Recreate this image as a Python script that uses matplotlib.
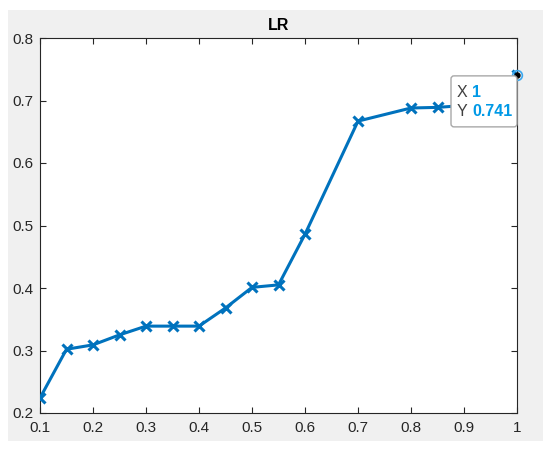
import matplotlib
matplotlib.use("Agg")
import matplotlib.pyplot as plt
from matplotlib.patches import Rectangle, FancyBboxPatch

# LR results
x_vals = [0.1, 0.15, 0.2, 0.25, 0.3, 0.35, 0.4, 0.45, 0.5, 0.55, 0.6, 0.7, 0.8, 0.85, 0.9, 1.0]
y_vals = [0.224, 0.302, 0.309, 0.325, 0.339, 0.339, 0.339, 0.368, 0.401, 0.405,
          0.486, 0.667, 0.688, 0.689, 0.692, 0.741]
x_ticks = [0.1, 0.2, 0.3, 0.4, 0.5, 0.6, 0.7, 0.8, 0.9, 1]
x_labels = ['0.1', '0.2', '0.3', '0.4', '0.5', '0.6', '0.7', '0.8', '0.9', '1']
y_ticks = [0.2, 0.3, 0.4, 0.5, 0.6, 0.7, 0.8]
y_labels = ['0.2', '0.3', '0.4', '0.5', '0.6', '0.7', '0.8']
tip_x, tip_y = 1, 0.741

plt.rcParams['font.family'] = ['Liberation Sans', 'DejaVu Sans']

W, H = 550, 450
fig = plt.figure(figsize=(5.5, 4.5), dpi=100)
fig.patch.set_facecolor('white')
# grey MATLAB figure panel
fig.patches.append(Rectangle((8 / W, (H - 441) / H), 535 / W, 431 / H,
                             transform=fig.transFigure, facecolor='#f0f0f0',
                             edgecolor='none', zorder=-5))

ax = fig.add_axes([40 / W, (H - 413) / H, 477 / W, 375 / H])
ax.set_facecolor('white')
line_col = '#0072bd'
ax.plot(x_vals, y_vals, color=line_col, linewidth=2.2, marker='x',
        markersize=7, markeredgewidth=2.2, zorder=3)

ax.set_xlim(0.1, 1)
ax.set_ylim(0.2, 0.8)
ax.set_xticks(x_ticks)
ax.set_xticklabels(x_labels)
ax.set_yticks(y_ticks)
ax.set_yticklabels(y_labels)
ax.tick_params(direction='in', length=4, width=0.8, colors='#262626',
               labelsize=11, top=True, right=True)
ax.tick_params(axis='x', pad=6)
ax.tick_params(axis='y', pad=5)
for s in ax.spines.values():
    s.set_color('#262626')
    s.set_linewidth(0.8)
ax.set_title('LR', fontsize=11.5, fontweight='bold', color='black', pad=6)

# datatip
px, py = ax.transData.transform((tip_x, tip_y))
box = FancyBboxPatch((px - 66, py - 52), 66, 51,
                     boxstyle='round,pad=0,rounding_size=3',
                     transform=None, facecolor='white', edgecolor='#a8a8a8',
                     linewidth=1, zorder=10)
fig.patches.append(box)
ax.plot([tip_x], [tip_y], 'o', markerfacecolor='none', markeredgecolor='#3aa8f0',
        markersize=7, markeredgewidth=1.2, linestyle='none', zorder=11, clip_on=False)
ax.plot([tip_x], [tip_y], 'o', color='black', markersize=3.5, zorder=12, clip_on=False)
tip_blue = '#0099e6'
for dy, lab, val in [(-18, 'X', '1'), (-37, 'Y', '%.3f' % tip_y)]:
    fig.text(px - 60, py + dy, lab, transform=None, fontsize=11.5,
             color='#404040', va='center', ha='left', zorder=13)
    fig.text(px - 45, py + dy, val, transform=None, fontsize=11.5,
             color=tip_blue, fontweight='bold', va='center', ha='left', zorder=13)

fig.savefig('out.png', dpi=100, facecolor='white')
